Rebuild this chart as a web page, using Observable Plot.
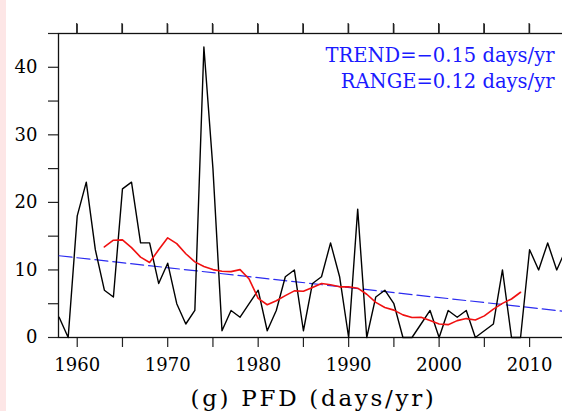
<!DOCTYPE html>
<html>
<head>
<meta charset="utf-8">
<script src="https://cdn.jsdelivr.net/npm/d3@7"></script>
<script src="https://cdn.jsdelivr.net/npm/@observablehq/plot@0.6"></script>
<style>
  html, body { margin: 0; padding: 0; background: #fff; overflow: hidden; width: 562px; height: 411px; }
  #wrap { position: relative; width: 562px; height: 411px; overflow: hidden; }
  #strip { position: absolute; left: 0; top: 0; width: 6px; height: 411px; background: #fde6e6; }
  #chart { position: absolute; left: 0; top: 0; width: 572px; }
  #chart svg { max-width: none !important; width: 572px !important; height: 411px !important; overflow: visible; }
</style>
</head>
<body>
<div id="wrap"><div id="strip"></div><div id="chart"></div></div>
<script>
// Annual PFD (days/yr)
const years = [1958,1959,1960,1961,1962,1963,1964,1965,1966,1967,1968,1969,1970,1971,1972,1973,1974,1975,1976,1977,1978,1979,1980,1981,1982,1983,1984,1985,1986,1987,1988,1989,1990,1991,1992,1993,1994,1995,1996,1997,1998,1999,2000,2001,2002,2003,2004,2005,2006,2007,2008,2009,2010,2011,2012,2013,2014];
const pfd = [3,0,18,23,13,7,6,22,23,14,14,8,11,5,2,4,43,25,1,4,3,5,7,1,4,9,10,1,8,9,14,9,0,19,0,6,7,5,0,0,2,4,0,4,3,4,0,1,2,10,0,0,13,10,14,10,13];

// Smoothed curve (red), 1963-2009
const smoothYears = [1963,1964,1965,1966,1967,1968,1969,1970,1971,1972,1973,1974,1975,1976,1977,1978,1979,1980,1981,1982,1983,1984,1985,1986,1987,1988,1989,1990,1991,1992,1993,1994,1995,1996,1997,1998,1999,2000,2001,2002,2003,2004,2005,2006,2007,2008,2009];
const smoothValues = [13.4,14.4,14.45,13.3,11.9,11.1,13.0,14.75,13.9,12.4,11.2,10.5,10.05,9.8,9.75,10.05,8.65,5.8,4.85,5.45,6.2,6.9,6.85,7.4,8.0,7.8,7.5,7.5,7.3,6.4,5.2,4.45,4.05,3.35,2.95,3.0,2.5,2.0,1.9,2.5,2.8,2.6,3.2,4.2,5.05,5.7,6.7];

// Linear trend (blue dashed), endpoints
const trendYears = [1958, 2014];
const trendValues = [12.1, 3.85];

// Ticks and labels
const xTicks = [1960,1965,1970,1975,1980,1985,1990,1995,2000,2005,2010];
const yTicks = [0,5,10,15,20,25,30,35,40,45];
const annotations = ["TREND=\u22120.15 days/yr", "RANGE=0.12 days/yr"];
const title = "(g) PFD (days/yr)";

const series = years.map((y, i) => ({year: y, value: pfd[i]}));
const smooth = smoothYears.map((y, i) => ({year: y, value: smoothValues[i]}));
const trend = trendYears.map((y, i) => ({year: y, value: trendValues[i]}));

const FONT = "DejaVu Serif";
const chart = Plot.plot({
  width: 572,
  height: 411,
  marginLeft: 58,
  marginRight: 4,
  marginTop: 33,
  marginBottom: 74,
  style: {fontFamily: FONT, fontSize: "18px", color: "#000", background: "transparent", maxWidth: "none", overflow: "visible"},
  x: {domain: [1957.93, 2014.3]},
  y: {domain: [0, 45]},
  marks: [
    Plot.axisX(xTicks, {anchor: "bottom", tickSize: 10, tickPadding: 11, stroke: "#222", strokeWidth: 1.2,
      tickFormat: d => (d % 10 === 0 ? String(d) : ""), label: null, fontSize: 18}),
    Plot.axisY(yTicks, {anchor: "left", tickSize: 10, tickPadding: 11, stroke: "#222", strokeWidth: 1.2,
      tickFormat: d => (d % 10 === 0 ? String(d) : ""), label: null, fontSize: 18}),
    Plot.frame({stroke: "#111", strokeWidth: 1.3}),
    Plot.line(trend, {x: "year", y: "value", stroke: "#2b2bf0", strokeWidth: 1.2, strokeDasharray: "13,5"}),
    Plot.line(series, {x: "year", y: "value", stroke: "#000", strokeWidth: 1.4}),
    Plot.line(smooth, {x: "year", y: "value", stroke: "#f01010", strokeWidth: 1.6}),
    Plot.text([annotations[0]], {frameAnchor: "top-right", text: d => d, textAnchor: "end", lineAnchor: "bottom",
      dx: -14, dy: 28, fill: "#1a1aff", fontSize: 19.5, fontFamily: FONT}),
    Plot.text([annotations[1]], {frameAnchor: "top-right", text: d => d, textAnchor: "end", lineAnchor: "bottom",
      dx: -14, dy: 54, fill: "#1a1aff", fontSize: 19.5, fontFamily: FONT}),
    Plot.text([title], {frameAnchor: "bottom", text: d => d, textAnchor: "middle", lineAnchor: "bottom",
      dy: 68, fill: "#000", fontSize: 23, fontFamily: FONT}),
    Plot.axisX(xTicks, {anchor: "top", tickSize: 10, stroke: "#222", strokeWidth: 1.2, fill: "none", label: null})
  ]
});
chart.querySelectorAll("text").forEach(t => {
  if (t.textContent === title) t.setAttribute("letter-spacing", "2.7");
});
// Top-edge tick marks placed with the plot's own scales
const xs = chart.scale("x"), ys = chart.scale("y");
const yTop = ys.apply(ys.domain[1]);
d3.select(chart).append("g").attr("aria-label", "top ticks")
  .selectAll("line").data(xTicks).join("line")
  .attr("x1", d => xs.apply(d)).attr("x2", d => xs.apply(d))
  .attr("y1", yTop).attr("y2", yTop - 10)
  .attr("stroke", "#222").attr("stroke-width", 1.2);
document.getElementById("chart").appendChild(chart);
</script>
</body>
</html>
